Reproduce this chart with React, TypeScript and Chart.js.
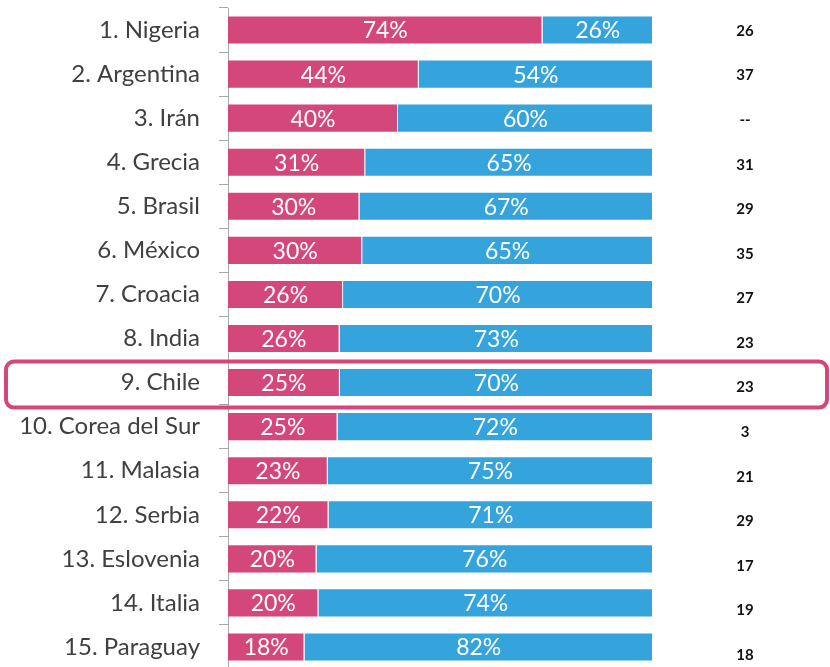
import React, { useEffect, useRef } from "react";
import { Chart, registerables } from "chart.js";

Chart.register(...registerables);

const countries = [
  "1. Nigeria", "2. Argentina", "3. Irán", "4. Grecia", "5. Brasil",
  "6. México", "7. Croacia", "8. India", "9. Chile", "10. Corea del Sur",
  "11. Malasia", "12. Serbia", "13. Eslovenia", "14. Italia", "15. Paraguay",
];
const pinkValues = [74, 44, 40, 31, 30, 30, 26, 26, 25, 25, 23, 22, 20, 20, 18];
const blueValues = [26, 54, 60, 65, 67, 65, 70, 73, 70, 72, 75, 71, 76, 74, 82];
const rightValues = ["26", "37", "--", "31", "29", "35", "27", "23", "23", "3", "21", "29", "17", "19", "18"];
const highlightIndex = 8;

const PINK = "#D4477A";
const BLUE = "#35A4DC";

const pinkShare = pinkValues.map((p, i) => p / (p + blueValues[i]));
const blueShare = blueValues.map((b, i) => b / (pinkValues[i] + b));

const overlayPlugin = {
  id: "overlay",
  afterDatasetsDraw(chart: any) {
    const ctx = chart.ctx;
    ctx.save();
    ctx.font = "23px Lato";
    ctx.fillStyle = "#ffffff";
    ctx.textAlign = "center";
    ctx.textBaseline = "middle";
    const raw = [pinkValues, blueValues];
    chart.data.datasets.forEach((ds: any, di: number) => {
      const meta = chart.getDatasetMeta(di);
      meta.data.forEach((bar: any, i: number) => {
        const left = Math.min(bar.x, bar.base);
        const right = Math.max(bar.x, bar.base);
        ctx.fillText(raw[di][i] + "%", (left + right) / 2, bar.y + 1);
      });
    });
    // right column numbers
    ctx.font = "bold 15px Lato";
    ctx.fillStyle = "#111111";
    const yScale = chart.scales.y;
    rightValues.forEach((v, i) => {
      const y = yScale.getPixelForValue(i);
      ctx.fillText(v, 745, y + 1 + i * 0.5);
    });
    // highlight box
    const yc = yScale.getPixelForValue(highlightIndex);
    const x0 = 6, x1 = chart.width - 3, y0 = yc - 21, y1 = yc + 25, r = 8;
    ctx.strokeStyle = PINK;
    ctx.lineWidth = 4;
    ctx.beginPath();
    ctx.moveTo(x0 + r, y0);
    ctx.lineTo(x1 - r, y0);
    ctx.arcTo(x1, y0, x1, y0 + r, r);
    ctx.lineTo(x1, y1 - r);
    ctx.arcTo(x1, y1, x1 - r, y1, r);
    ctx.lineTo(x0 + r, y1);
    ctx.arcTo(x0, y1, x0, y1 - r, r);
    ctx.lineTo(x0, y0 + r);
    ctx.arcTo(x0, y0, x0 + r, y0, r);
    ctx.closePath();
    ctx.stroke();
    ctx.restore();
  },
};

export default function App() {
  const ref = useRef<HTMLCanvasElement>(null);
  useEffect(() => {
    document.body.style.margin = "0";
    document.body.style.overflow = "hidden";
    const chart = new Chart(ref.current!, {
      type: "bar",
      data: {
        labels: countries,
        datasets: [
          { data: pinkShare, backgroundColor: PINK, borderColor: "rgba(255,255,255,0.35)", borderWidth: 1, categoryPercentage: 1, barPercentage: 0.66 },
          { data: blueShare, backgroundColor: BLUE, borderColor: "rgba(255,255,255,0.35)", borderWidth: 1, categoryPercentage: 1, barPercentage: 0.66 },
        ],
      },
      options: {
        indexAxis: "y",
        responsive: false,
        animation: false,
        layout: { padding: { top: 8, right: 177, left: 0, bottom: 0 } },
        plugins: { legend: { display: false }, tooltip: { enabled: false } },
        scales: {
          x: { stacked: true, display: false, min: 0, max: 1 },
          y: {
            stacked: true,
            afterFit: (s: any) => { s.width = 228; s.paddingTop = 0; s.paddingBottom = 0; },
            grid: { drawOnChartArea: false, tickLength: 9, color: "#a6a6a6", offset: true },
            border: { display: true, color: "#a6a6a6" },
            ticks: { color: "#404040", font: { family: "Lato", size: 24, weight: 400 }, padding: 19 },
          },
        },
      },
      plugins: [overlayPlugin],
    });
    return () => chart.destroy();
  }, []);
  return (
    <div style={{ position: "absolute", left: 0, top: 0, width: 830, height: 669 }}>
      <canvas ref={ref} width={830} height={669} />
    </div>
  );
}
